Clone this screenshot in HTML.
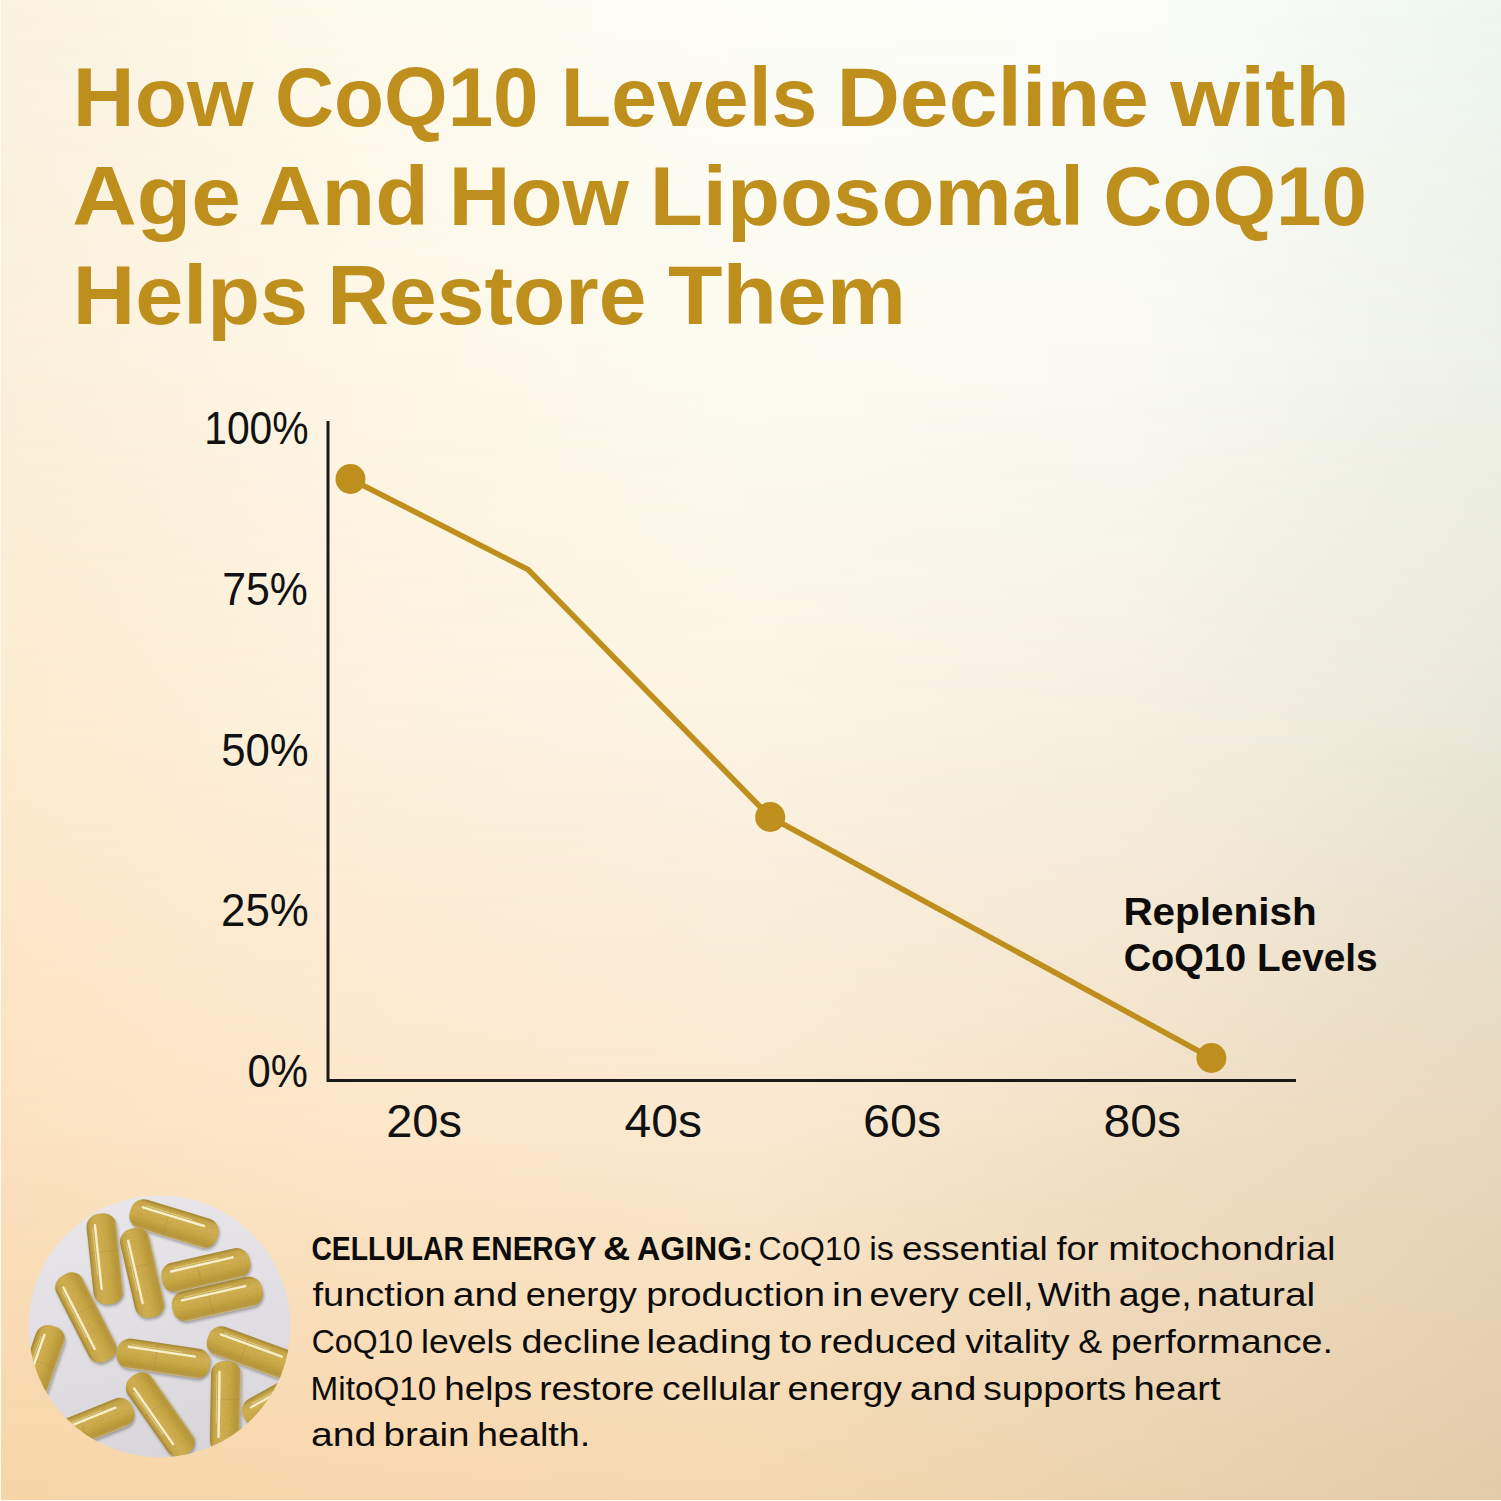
<!DOCTYPE html>
<html><head><meta charset="utf-8">
<style>
html,body{margin:0;padding:0;width:1501px;height:1501px;overflow:hidden;}
body{position:relative;background:#fbf2e0;font-family:"Liberation Sans",sans-serif;}
.bg{position:absolute;left:0;top:0;width:1501px;height:1501px;}
#r0{background:linear-gradient(to right,#fbf2e0 0px,#fdfbed 375px,#fdfdf7 750px,#fcfdfa 1125px,#eff6f2 1501px);}
#r1{background:linear-gradient(to right,#faf0da 0px,#fef6e6 375px,#fbfbef 750px,#f9f9f1 1125px,#eef1e6 1501px);
 -webkit-mask-image:linear-gradient(to bottom,transparent 0px,#000 375px);mask-image:linear-gradient(to bottom,transparent 0px,#000 375px);}
#r2{background:linear-gradient(to right,#fdebcf 0px,#fcf1dc 375px,#fbf3e2 750px,#f6efe0 1125px,#e8e6d6 1501px);
 -webkit-mask-image:linear-gradient(to bottom,transparent 375px,#000 750px);mask-image:linear-gradient(to bottom,transparent 375px,#000 750px);}
#r3{background:linear-gradient(to right,#fce1c0 0px,#fce6c9 375px,#f9e8cf 750px,#f2e0c5 1125px,#e7d7bc 1501px);
 -webkit-mask-image:linear-gradient(to bottom,transparent 750px,#000 1140px);mask-image:linear-gradient(to bottom,transparent 750px,#000 1140px);}
#r4{background:linear-gradient(to right,#f6d5a6 0px,#f7d6ad 375px,#f5d7af 750px,#ebd1ae 1125px,#e3cba9 1501px);
 -webkit-mask-image:linear-gradient(to bottom,transparent 1140px,#000 1501px);mask-image:linear-gradient(to bottom,transparent 1140px,#000 1501px);}
#edgeL{position:absolute;left:0;top:0;width:1px;height:1501px;background:#fffaf2;}
#edgeB{position:absolute;left:0;top:1500px;width:1501px;height:1px;background:#fff;}
svg{position:absolute;left:0;top:0;}
</style></head>
<body>
<div class="bg" id="r0"></div>
<div class="bg" id="r1"></div>
<div class="bg" id="r2"></div>
<div class="bg" id="r3"></div>
<div class="bg" id="r4"></div>
<div id="edgeL"></div><div id="edgeB"></div>
<svg width="1501" height="1501" viewBox="0 0 1501 1501">
<g font-family="Liberation Sans, sans-serif" font-weight="bold" fill="#be8f1d" font-size="84">
<text id="t1w0" x="72.8" y="126" textLength="180.8" lengthAdjust="spacingAndGlyphs">How</text>
<text id="t1w1" x="275.0" y="126" textLength="263.6" lengthAdjust="spacingAndGlyphs">CoQ10</text>
<text id="t1w2" x="560.8" y="126" textLength="256.6" lengthAdjust="spacingAndGlyphs">Levels</text>
<text id="t1w3" x="836.4" y="126" textLength="312.6" lengthAdjust="spacingAndGlyphs">Decline</text>
<text id="t1w4" x="1170.2" y="126" textLength="179.8" lengthAdjust="spacingAndGlyphs">with</text>
<text id="t2w0" x="72.2" y="225" textLength="168.6" lengthAdjust="spacingAndGlyphs">Age</text>
<text id="t2w1" x="258.2" y="225" textLength="170.6" lengthAdjust="spacingAndGlyphs">And</text>
<text id="t2w2" x="448.8" y="225" textLength="180.2" lengthAdjust="spacingAndGlyphs">How</text>
<text id="t2w3" x="649.8" y="225" textLength="434.4" lengthAdjust="spacingAndGlyphs">Liposomal</text>
<text id="t2w4" x="1103.4" y="225" textLength="263.6" lengthAdjust="spacingAndGlyphs">CoQ10</text>
<text id="t3w0" x="72.8" y="324" textLength="235.2" lengthAdjust="spacingAndGlyphs">Helps</text>
<text id="t3w1" x="327.2" y="324" textLength="319.2" lengthAdjust="spacingAndGlyphs">Restore</text>
<text id="t3w2" x="668.0" y="324" textLength="238.0" lengthAdjust="spacingAndGlyphs">Them</text>
</g>
<g font-family="Liberation Sans, sans-serif" fill="#111" font-size="46">
<text id="y100" x="204.2" y="444" textLength="104.4" lengthAdjust="spacingAndGlyphs">100%</text>
<text id="y75" x="222.2" y="605" textLength="85.6" lengthAdjust="spacingAndGlyphs">75%</text>
<text id="y50" x="221.2" y="766" textLength="87.6" lengthAdjust="spacingAndGlyphs">50%</text>
<text id="y25" x="221.0" y="926" textLength="87.8" lengthAdjust="spacingAndGlyphs">25%</text>
<text id="y0" x="247.6" y="1087" textLength="60.4" lengthAdjust="spacingAndGlyphs">0%</text>
<text id="x20" x="386.2" y="1136.5" textLength="75.8" lengthAdjust="spacingAndGlyphs">20s</text>
<text id="x40" x="624.6" y="1136.5" textLength="77.4" lengthAdjust="spacingAndGlyphs">40s</text>
<text id="x60" x="863.0" y="1136.5" textLength="78.2" lengthAdjust="spacingAndGlyphs">60s</text>
<text id="x80" x="1103.6" y="1136.5" textLength="77.6" lengthAdjust="spacingAndGlyphs">80s</text>
</g>
<path d="M328 421 V1080.5 H1296" fill="none" stroke="#1c1a19" stroke-width="3"/>
<polyline points="350.5,479 528,569.5 770.2,817 1211.4,1058" fill="none" stroke="#be8f1d" stroke-width="5.6" stroke-linejoin="round"/>
<g fill="#be8f1d">
<circle cx="350.5" cy="479" r="15"/>
<circle cx="770.2" cy="817" r="15"/>
<circle cx="1211.4" cy="1058" r="15"/>
</g>
<g font-family="Liberation Sans, sans-serif" font-weight="bold" fill="#0d0c0a" font-size="39">
<text id="a1" x="1123.4" y="925" textLength="193.4" lengthAdjust="spacingAndGlyphs">Replenish</text>
<text id="a2w0" x="1123.7" y="971" textLength="122.4" lengthAdjust="spacingAndGlyphs">CoQ10</text>
<text id="a2w1" x="1256.9" y="971" textLength="120.8" lengthAdjust="spacingAndGlyphs">Levels</text>
</g>
<g font-family="Liberation Sans, sans-serif" fill="#0d0c0a" font-size="33">
<text id="p1w0" x="311.4" y="1259.5" font-weight="bold" textLength="152.6" lengthAdjust="spacingAndGlyphs">CELLULAR</text>
<text id="p1w1" x="471.6" y="1259.5" font-weight="bold" textLength="124.8" lengthAdjust="spacingAndGlyphs">ENERGY</text>
<text id="p1w2" x="603.0" y="1259.5" font-weight="bold" textLength="27.2" lengthAdjust="spacingAndGlyphs">&amp;</text>
<text id="p1w3" x="637.0" y="1259.5" font-weight="bold" textLength="116.0" lengthAdjust="spacingAndGlyphs">AGING:</text>
<text id="p1w4" x="758.6" y="1259.5" textLength="102.0" lengthAdjust="spacingAndGlyphs">CoQ10</text>
<text id="p1w5" x="869.2" y="1259.5" textLength="24.6" lengthAdjust="spacingAndGlyphs">is</text>
<text id="p1w6" x="902.0" y="1259.5" textLength="145.8" lengthAdjust="spacingAndGlyphs">essential</text>
<text id="p1w7" x="1056.4" y="1259.5" textLength="42.2" lengthAdjust="spacingAndGlyphs">for</text>
<text id="p1w8" x="1108.2" y="1259.5" textLength="227.2" lengthAdjust="spacingAndGlyphs">mitochondrial</text>
<text id="p2w0" x="312.4" y="1306" textLength="133.4" lengthAdjust="spacingAndGlyphs">function</text>
<text id="p2w1" x="452.8" y="1306" textLength="65.0" lengthAdjust="spacingAndGlyphs">and</text>
<text id="p2w2" x="525.8" y="1306" textLength="111.0" lengthAdjust="spacingAndGlyphs">energy</text>
<text id="p2w3" x="646.2" y="1306" textLength="178.8" lengthAdjust="spacingAndGlyphs">production</text>
<text id="p2w4" x="832.0" y="1306" textLength="31.4" lengthAdjust="spacingAndGlyphs">in</text>
<text id="p2w5" x="869.6" y="1306" textLength="89.0" lengthAdjust="spacingAndGlyphs">every</text>
<text id="p2w6" x="967.4" y="1306" textLength="66.0" lengthAdjust="spacingAndGlyphs">cell,</text>
<text id="p2w7" x="1037.8" y="1306" textLength="74.0" lengthAdjust="spacingAndGlyphs">With</text>
<text id="p2w8" x="1118.8" y="1306" textLength="72.8" lengthAdjust="spacingAndGlyphs">age,</text>
<text id="p2w9" x="1196.6" y="1306" textLength="118.6" lengthAdjust="spacingAndGlyphs">natural</text>
<text id="p3w0" x="311.8" y="1352.5" textLength="101.2" lengthAdjust="spacingAndGlyphs">CoQ10</text>
<text id="p3w1" x="421.0" y="1352.5" textLength="91.4" lengthAdjust="spacingAndGlyphs">levels</text>
<text id="p3w2" x="521.4" y="1352.5" textLength="119.4" lengthAdjust="spacingAndGlyphs">decline</text>
<text id="p3w3" x="646.4" y="1352.5" textLength="125.6" lengthAdjust="spacingAndGlyphs">leading</text>
<text id="p3w4" x="779.2" y="1352.5" textLength="33.0" lengthAdjust="spacingAndGlyphs">to</text>
<text id="p3w5" x="819.2" y="1352.5" textLength="137.6" lengthAdjust="spacingAndGlyphs">reduced</text>
<text id="p3w6" x="965.2" y="1352.5" textLength="104.4" lengthAdjust="spacingAndGlyphs">vitality</text>
<text id="p3w7" x="1078.2" y="1352.5" textLength="24.0" lengthAdjust="spacingAndGlyphs">&amp;</text>
<text id="p3w8" x="1110.8" y="1352.5" textLength="222.2" lengthAdjust="spacingAndGlyphs">performance.</text>
<text id="p4w0" x="310.6" y="1400" textLength="125.6" lengthAdjust="spacingAndGlyphs">MitoQ10</text>
<text id="p4w1" x="444.2" y="1400" textLength="88.0" lengthAdjust="spacingAndGlyphs">helps</text>
<text id="p4w2" x="539.2" y="1400" textLength="115.2" lengthAdjust="spacingAndGlyphs">restore</text>
<text id="p4w3" x="662.0" y="1400" textLength="118.4" lengthAdjust="spacingAndGlyphs">cellular</text>
<text id="p4w4" x="787.6" y="1400" textLength="114.4" lengthAdjust="spacingAndGlyphs">energy</text>
<text id="p4w5" x="909.8" y="1400" textLength="66.8" lengthAdjust="spacingAndGlyphs">and</text>
<text id="p4w6" x="983.2" y="1400" textLength="143.0" lengthAdjust="spacingAndGlyphs">supports</text>
<text id="p4w7" x="1133.6" y="1400" textLength="87.0" lengthAdjust="spacingAndGlyphs">heart</text>
<text id="p5w0" x="311.0" y="1446" textLength="65.4" lengthAdjust="spacingAndGlyphs">and</text>
<text id="p5w1" x="383.6" y="1446" textLength="86.0" lengthAdjust="spacingAndGlyphs">brain</text>
<text id="p5w2" x="477.0" y="1446" textLength="113.2" lengthAdjust="spacingAndGlyphs">health.</text>
</g>
<defs>
<clipPath id="circ"><circle cx="159.5" cy="1326.3" r="131"/></clipPath>
<linearGradient id="cg" x1="0" y1="0" x2="0" y2="1"><stop offset="0" stop-color="#a3842e"/><stop offset="0.12" stop-color="#c6a648"/><stop offset="0.35" stop-color="#d0b052"/><stop offset="0.6" stop-color="#c9a846"/><stop offset="0.86" stop-color="#b89838"/><stop offset="0.95" stop-color="#b99b4a"/><stop offset="1" stop-color="#d2c090"/></linearGradient>
<linearGradient id="cg2" x1="0" y1="1" x2="0" y2="0"><stop offset="0" stop-color="#a3842e"/><stop offset="0.12" stop-color="#c6a648"/><stop offset="0.35" stop-color="#d0b052"/><stop offset="0.6" stop-color="#c9a846"/><stop offset="0.86" stop-color="#b89838"/><stop offset="0.95" stop-color="#b99b4a"/><stop offset="1" stop-color="#d2c090"/></linearGradient>
<linearGradient id="pg" x1="0.3" y1="0" x2="0.5" y2="1"><stop offset="0" stop-color="#e8e6e9"/><stop offset="0.5" stop-color="#e1dfe3"/><stop offset="1" stop-color="#d8d6da"/></linearGradient>
<filter id="sh" x="-10%" y="-10%" width="120%" height="120%" color-interpolation-filters="sRGB"><feGaussianBlur in="SourceAlpha" stdDeviation="1.6" result="blur"/><feOffset in="blur" dx="0.8" dy="2" result="off"/><feComponentTransfer in="off" result="shadow"><feFuncA type="linear" slope="0.3"/></feComponentTransfer><feTurbulence type="fractalNoise" baseFrequency="0.7" numOctaves="2" seed="5" result="noise"/><feColorMatrix in="noise" type="matrix" values="0 0 0 0 0.66  0 0 0 0 0.56  0 0 0 0 0.26  0 0 0 1.2 -0.62" result="speck"/><feComposite in="speck" in2="SourceAlpha" operator="in" result="speckIn"/><feMerge><feMergeNode in="shadow"/><feMergeNode in="SourceGraphic"/><feMergeNode in="speckIn"/></feMerge></filter>
</defs>
<g clip-path="url(#circ)">
<circle cx="159.5" cy="1326.3" r="131" fill="url(#pg)"/>
<g filter="url(#sh)">
<g transform="translate(174,1223.6) rotate(17)"><rect x="-45.5" y="-15.0" width="91" height="30" rx="13" fill="url(#cg)"/><path d="M-7.3 -14 V14" stroke="#a98c3e" stroke-width="0.8" opacity="0.5"/></g>
<g transform="translate(105,1258.9) rotate(84)"><rect x="-45.5" y="-15.0" width="91" height="30" rx="13" fill="url(#cg2)"/><path d="M-7.3 -14 V14" stroke="#a98c3e" stroke-width="0.8" opacity="0.5"/></g>
<g transform="translate(142.3,1272.8) rotate(77)"><rect x="-45.5" y="-15.0" width="91" height="30" rx="13" fill="url(#cg2)"/><path d="M-7.3 -14 V14" stroke="#a98c3e" stroke-width="0.8" opacity="0.5"/></g>
<g transform="translate(205.8,1270.2) rotate(-13)"><rect x="-45.0" y="-15.0" width="90" height="30" rx="13" fill="url(#cg)"/><path d="M-7.2 -14 V14" stroke="#a98c3e" stroke-width="0.8" opacity="0.5"/></g>
<g transform="translate(217.4,1299) rotate(-12.7)"><rect x="-46.0" y="-15.0" width="92" height="30" rx="13" fill="url(#cg)"/><path d="M-7.4 -14 V14" stroke="#a98c3e" stroke-width="0.8" opacity="0.5"/></g>
<g transform="translate(86,1317.5) rotate(63)"><rect x="-48.0" y="-15.0" width="96" height="30" rx="13" fill="url(#cg2)"/><path d="M-7.7 -14 V14" stroke="#a98c3e" stroke-width="0.8" opacity="0.5"/></g>
<g transform="translate(39,1369.8) rotate(109.4)"><rect x="-46.0" y="-15.0" width="92" height="30" rx="13" fill="url(#cg2)"/><path d="M-7.4 -14 V14" stroke="#a98c3e" stroke-width="0.8" opacity="0.5"/></g>
<g transform="translate(163.4,1358.5) rotate(8.5)"><rect x="-47.0" y="-15.0" width="94" height="30" rx="13" fill="url(#cg)"/><path d="M-7.5 -14 V14" stroke="#a98c3e" stroke-width="0.8" opacity="0.5"/></g>
<g transform="translate(251.4,1352.5) rotate(20)"><rect x="-46.0" y="-15.0" width="92" height="30" rx="13" fill="url(#cg)"/><path d="M-7.4 -14 V14" stroke="#a98c3e" stroke-width="0.8" opacity="0.5"/></g>
<g transform="translate(90,1425) rotate(-22)"><rect x="-46.0" y="-15.0" width="92" height="30" rx="13" fill="url(#cg)"/><path d="M-7.4 -14 V14" stroke="#a98c3e" stroke-width="0.8" opacity="0.5"/></g>
<g transform="translate(160.3,1414.6) rotate(55)"><rect x="-47.5" y="-15.0" width="95" height="30" rx="13" fill="url(#cg2)"/><path d="M-7.6 -14 V14" stroke="#a98c3e" stroke-width="0.8" opacity="0.5"/></g>
<g transform="translate(225.5,1407) rotate(91)"><rect x="-46.0" y="-15.0" width="92" height="30" rx="13" fill="url(#cg2)"/><path d="M-7.4 -14 V14" stroke="#a98c3e" stroke-width="0.8" opacity="0.5"/></g>
<g transform="translate(284.8,1396) rotate(-29)"><rect x="-46.0" y="-15.0" width="92" height="30" rx="13" fill="url(#cg)"/><path d="M-7.4 -14 V14" stroke="#a98c3e" stroke-width="0.8" opacity="0.5"/></g>
</g>
<g>
<g transform="translate(174,1223.6) rotate(17)"><path d="M-34.5 -6.5 H29.5" stroke="#fdf7de" stroke-width="2.4" stroke-linecap="round" opacity="0.88"/><path d="M-31.5 -9.1 H15.5" stroke="#fbf3d2" stroke-width="1" stroke-linecap="round" opacity="0.45"/></g>
<g transform="translate(105,1258.9) rotate(84)"><path d="M-34.5 6.5 H29.5" stroke="#fdf7de" stroke-width="2.4" stroke-linecap="round" opacity="0.88"/><path d="M-31.5 9.1 H15.5" stroke="#fbf3d2" stroke-width="1" stroke-linecap="round" opacity="0.45"/></g>
<g transform="translate(142.3,1272.8) rotate(77)"><path d="M-34.5 6.5 H29.5" stroke="#fdf7de" stroke-width="2.4" stroke-linecap="round" opacity="0.88"/><path d="M-31.5 9.1 H15.5" stroke="#fbf3d2" stroke-width="1" stroke-linecap="round" opacity="0.45"/></g>
<g transform="translate(205.8,1270.2) rotate(-13)"><path d="M-34.0 -6.5 H29.0" stroke="#fdf7de" stroke-width="2.4" stroke-linecap="round" opacity="0.88"/><path d="M-31.0 -9.1 H15.0" stroke="#fbf3d2" stroke-width="1" stroke-linecap="round" opacity="0.45"/></g>
<g transform="translate(217.4,1299) rotate(-12.7)"><path d="M-35.0 -6.5 H30.0" stroke="#fdf7de" stroke-width="2.4" stroke-linecap="round" opacity="0.88"/><path d="M-32.0 -9.1 H16.0" stroke="#fbf3d2" stroke-width="1" stroke-linecap="round" opacity="0.45"/></g>
<g transform="translate(86,1317.5) rotate(63)"><path d="M-37.0 6.5 H32.0" stroke="#fdf7de" stroke-width="2.4" stroke-linecap="round" opacity="0.88"/><path d="M-34.0 9.1 H18.0" stroke="#fbf3d2" stroke-width="1" stroke-linecap="round" opacity="0.45"/></g>
<g transform="translate(39,1369.8) rotate(109.4)"><path d="M-35.0 6.5 H30.0" stroke="#fdf7de" stroke-width="2.4" stroke-linecap="round" opacity="0.88"/><path d="M-32.0 9.1 H16.0" stroke="#fbf3d2" stroke-width="1" stroke-linecap="round" opacity="0.45"/></g>
<g transform="translate(163.4,1358.5) rotate(8.5)"><path d="M-36.0 -6.5 H31.0" stroke="#fdf7de" stroke-width="2.4" stroke-linecap="round" opacity="0.88"/><path d="M-33.0 -9.1 H17.0" stroke="#fbf3d2" stroke-width="1" stroke-linecap="round" opacity="0.45"/></g>
<g transform="translate(251.4,1352.5) rotate(20)"><path d="M-35.0 -6.5 H30.0" stroke="#fdf7de" stroke-width="2.4" stroke-linecap="round" opacity="0.88"/><path d="M-32.0 -9.1 H16.0" stroke="#fbf3d2" stroke-width="1" stroke-linecap="round" opacity="0.45"/></g>
<g transform="translate(90,1425) rotate(-22)"><path d="M-35.0 -6.5 H30.0" stroke="#fdf7de" stroke-width="2.4" stroke-linecap="round" opacity="0.88"/><path d="M-32.0 -9.1 H16.0" stroke="#fbf3d2" stroke-width="1" stroke-linecap="round" opacity="0.45"/></g>
<g transform="translate(160.3,1414.6) rotate(55)"><path d="M-36.5 6.5 H31.5" stroke="#fdf7de" stroke-width="2.4" stroke-linecap="round" opacity="0.88"/><path d="M-33.5 9.1 H17.5" stroke="#fbf3d2" stroke-width="1" stroke-linecap="round" opacity="0.45"/></g>
<g transform="translate(225.5,1407) rotate(91)"><path d="M-35.0 6.5 H30.0" stroke="#fdf7de" stroke-width="2.4" stroke-linecap="round" opacity="0.88"/><path d="M-32.0 9.1 H16.0" stroke="#fbf3d2" stroke-width="1" stroke-linecap="round" opacity="0.45"/></g>
<g transform="translate(284.8,1396) rotate(-29)"><path d="M-35.0 -6.5 H30.0" stroke="#fdf7de" stroke-width="2.4" stroke-linecap="round" opacity="0.88"/><path d="M-32.0 -9.1 H16.0" stroke="#fbf3d2" stroke-width="1" stroke-linecap="round" opacity="0.45"/></g>
</g></g>
</svg>
</body></html>
